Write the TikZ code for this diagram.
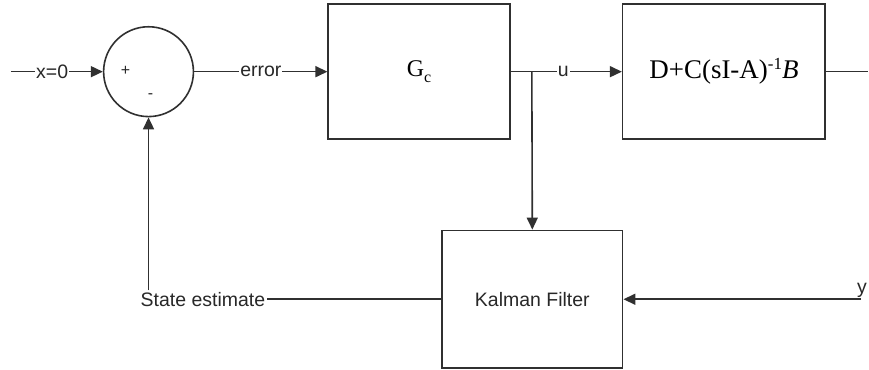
\documentclass[tikz,border=0pt]{standalone}
\usepackage{fontspec}
\setmainfont{Liberation Serif}
\setsansfont{Liberation Sans}
\usetikzlibrary{arrows.meta}
\definecolor{ln}{HTML}{303030}
\definecolor{tx}{HTML}{282828}
\begin{document}
\begin{tikzpicture}[x=1pt,y=-1pt,
  line width=1.6pt,
  every path/.style={draw=ln},
  blk/.style={draw=ln, rectangle, inner sep=0pt, text=black, font=\fontsize{24}{26}\selectfont},
  lbl/.style={fill=white, inner sep=1pt, text=tx, font=\sffamily\fontsize{19.5}{21}\selectfont},
  arr/.style={-{Triangle[length=12pt,width=11pt]}},
  sgn/.style={inner sep=0pt, text=tx, font=\sffamily\fontsize{16}{17}\selectfont}]
\useasboundingbox (0,0) rectangle (869,369);
\fill[white] (0,0) rectangle (869,369);
\node[circle, draw=ln, minimum size=90pt, inner sep=0pt] (sum) at (148,71) {};
\node[sgn] (plus) at (125,70) {+};
\node[sgn] (minus) at (150,95) {-};
\node[blk, minimum width=182pt, minimum height=135pt] (gc) at (419,71)
  {G\raisebox{-6pt}{\fontsize{16}{17}\selectfont c}};
\node[blk, minimum width=203pt, minimum height=135pt, font=\fontsize{27}{29}\selectfont] (plant) at (724.5,71)
  {D+C(sI-A)\raisebox{9pt}{\fontsize{17}{18}\selectfont -1}\textit{B}};
\node[blk, minimum width=181pt, minimum height=138pt, font=\sffamily\fontsize{19.5}{21}\selectfont, text=tx] (kf) at (532.5,299) {Kalman Filter};
\coordinate (in) at (10,71);
\coordinate (j) at (532,71);
\coordinate (out) at (869,71);
\node[lbl, anchor=west, inner sep=0pt, fill=none] (ylbl) at (857,290) {y};
\coordinate (yin) at (862,299);
\node[lbl, inner sep=1pt] (se) at (202.5,299) {State estimate};
\draw[arr] (in) -- node[lbl, pos=0.45]{x=0} (sum.west);
\draw[arr] (sum.east) -- node[lbl]{error} (gc.west);
\draw (gc.east) -- (j);
\draw[arr] (j) -- node[lbl, pos=0.35]{u} (plant.west);
\draw[arr] (j) -- (kf.north);
\draw (plant.east) -- (out);
\draw[arr] (yin) -- (kf.east);
\draw (kf.west) -- (se.east);
\draw[arr] (se.north -| sum.south) -- (sum.south);
\end{tikzpicture}
\end{document}
